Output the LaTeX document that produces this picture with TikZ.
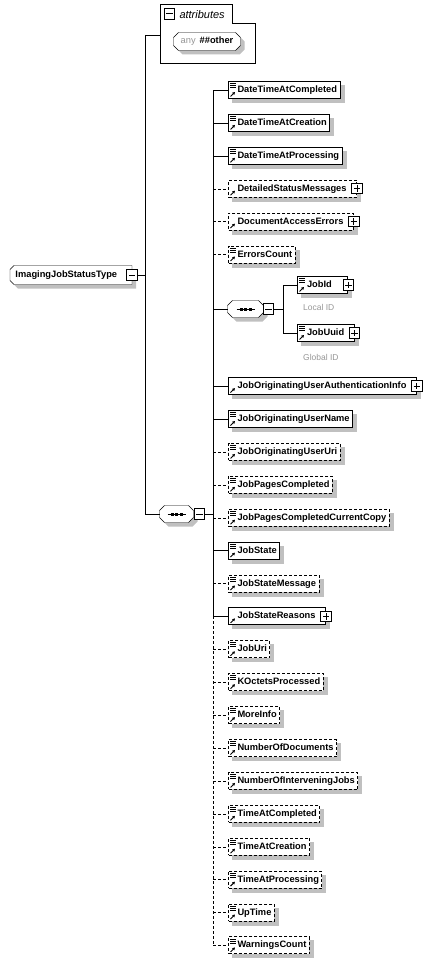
\documentclass[tikz,border=0pt]{standalone}
\usepackage{fontspec}
\setmainfont{Liberation Sans}
\usetikzlibrary{arrows.meta,calc}
\pgfdeclarelayer{background}
\pgfdeclarelayer{shadowlayer}
\pgfsetlayers{shadowlayer,background,main}
\definecolor{shadowgray}{RGB}{192,192,192}
\definecolor{anngray}{RGB}{150,150,150}
\newcommand\elfont{\fontsize{9.3}{11}\selectfont\bfseries}
% #1 node, #2 left chamfer, #3 right chamfer, #4 style, #5 offset
\newcommand\octo[5]{%
  \path[#4] let \p1=(#1.north west), \p2=(#1.south east) in
   ({\x1+#2pt+#5pt},{\y1-#5pt}) -- ({\x2-#3pt+#5pt},{\y1-#5pt}) -- ({\x2+#5pt},{\y1-#3pt-#5pt}) --
   ({\x2+#5pt},{\y2+#3pt-#5pt}) -- ({\x2-#3pt+#5pt},{\y2-#5pt}) -- ({\x1+#2pt+#5pt},{\y2-#5pt}) --
   ({\x1+#5pt},{\y2+#2pt-#5pt}) -- ({\x1+#5pt},{\y1-#2pt-#5pt}) -- cycle;}
\newcommand\simpleicon[1]{%
  \draw[line width=0.8pt] ([xshift=2pt,yshift=-2.5pt]#1.north west) -- ++(5.5,0)
    ([xshift=2pt,yshift=-4.5pt]#1.north west) -- ++(5.5,0)
    ([xshift=2pt,yshift=-6.5pt]#1.north west) -- ++(5.5,0);}
\newcommand\refarrow[1]{%
  \draw[line width=0.9pt,-{Triangle[length=2.6pt,width=2.8pt]}] ([xshift=2.5pt,yshift=2.5pt]#1.south west) -- ++(4.5,-4.5);}
\newcommand\seqicon[1]{%
  \draw[line width=1pt] ([xshift=-9pt]#1.center) -- ([xshift=9pt]#1.center);
  \foreach \dx in {-4.5,0,4.5} \fill ([xshift=\dx pt]#1.center) +(-1.5,-1.5) rectangle +(1.5,1.5);}
\newcommand\boxshadow[1]{%
  \fill[shadowgray] ([xshift=4pt,yshift=-4pt]#1.north west) rectangle ([xshift=4pt,yshift=-4pt]#1.south east);}
\tikzset{
  elbox/.style={draw, fill=white, anchor=west, line width=1pt, minimum height=17pt,
    inner xsep=0pt, inner ysep=0pt, font=\elfont, text height=7pt, text depth=2pt},
  optbox/.style={elbox, dash pattern=on 3pt off 2pt},
  optline/.style={dash pattern=on 3pt off 2pt},
  pmbox/.style={draw, fill=white, line width=1pt, minimum size=10.5pt, inner sep=0pt},
  minusbox/.style={pmbox, path picture={\draw[line width=1pt] ([xshift=2pt]path picture bounding box.west) -- ([xshift=-2pt]path picture bounding box.east);}},
  plusbox/.style={pmbox, path picture={\draw[line width=1pt] ([xshift=2pt]path picture bounding box.west) -- ([xshift=-2pt]path picture bounding box.east) ([yshift=-2pt]path picture bounding box.north) -- ([yshift=2pt]path picture bounding box.south);}},
  holder/.style={inner sep=0pt, draw=none},
  ann/.style={anchor=west, font=\fontsize{8.5}{10}\selectfont, text=anngray, inner sep=0pt},
}
\begin{document}
\begin{tikzpicture}[x=1pt,y=-1pt,line width=1pt]
\useasboundingbox (0,0) rectangle (439,966);

% ---------- root ----------
\node[holder, anchor=west, minimum width=121pt, minimum height=18pt, font=\elfont] (root) at (10,275)
  {\makebox[121pt][l]{\hspace*{5pt}ImagingJobStatusType}};
\node[minusbox] (rootm) at (root.east) {};

% ---------- attributes ----------
\node[holder, minimum width=95pt, minimum height=59pt] (attr) at (207.5,33.5) {};
\coordinate (attrin) at (160,35);
\node[minusbox] (attrm) at (169.5,14) {};
\node[anchor=west, inner sep=0pt, font=\fontsize{11}{13}\selectfont\itshape] (attrt) at (179,15) {attributes};
\node[holder, minimum width=66pt, minimum height=17pt, font=\fontsize{9.3}{11}\selectfont] (anyn) at (207,41.5)
  {\textcolor{anngray}{any}\hspace{4pt}\textbf{\#\#other}};

% ---------- main sequence ----------
\node[holder, minimum width=33pt, minimum height=16pt] (seq) at (176.5,514) {};
\node[minusbox] (seqm) at (199.5,514) {};
\seqicon{seq}

% ---------- inner sequence ----------
\node[holder, minimum width=35pt, minimum height=16pt] (seqb) at (245.5,309) {};
\node[minusbox] (seqbm) at (268.5,309) {};
\seqicon{seqb}

\begin{pgfonlayer}{background}
  \octo{root}{4}{0}{fill=shadowgray}{4}
  \octo{root}{4}{0}{draw, fill=white}{0}
  \draw[fill=white] (160,4) -- (232,4) -- (232,23) -- (255,23) -- (255,63) -- (160,63) -- cycle;
  \octo{anyn}{5}{5}{fill=shadowgray}{4}
  \octo{anyn}{5}{5}{draw, fill=white}{0}
  \octo{seq}{5}{5}{fill=shadowgray}{4}
  \octo{seq}{5}{5}{draw, fill=white}{0}
  \octo{seqb}{5}{5}{fill=shadowgray}{4}
  \octo{seqb}{5}{5}{draw, fill=white}{0}
\end{pgfonlayer}

% trunk
\coordinate (vt) at (145,35);
\coordinate (vr) at (145,275);
\coordinate (vb) at (145,514);
\draw (rootm.east) -- (vr);
\draw (vt) -- (vb);
\draw (vt) -- (attrin);
\draw (vb) -- (seq.west);

% spine
\coordinate (spseq) at (213,514);
\coordinate (sp0) at (213,90);
\coordinate (sp1) at (213,122.9);
\coordinate (sp2) at (213,155.8);
\coordinate (sp3) at (213,188.7);
\coordinate (sp4) at (213,221.6);
\coordinate (sp5) at (213,254.5);
\coordinate (sp6) at (213,309);
\coordinate (sp9) at (213,386.1);
\coordinate (sp10) at (213,419);
\coordinate (sp11) at (213,451.9);
\coordinate (sp12) at (213,484.8);
\coordinate (sp13) at (213,517.7);
\coordinate (sp14) at (213,550.6);
\coordinate (sp15) at (213,583.5);
\coordinate (sp16) at (213,616.4);
\coordinate (sp17) at (213,649.3);
\coordinate (sp18) at (213,682.2);
\coordinate (sp19) at (213,715.1);
\coordinate (sp20) at (213,748);
\coordinate (sp21) at (213,780.9);
\coordinate (sp22) at (213,813.8);
\coordinate (sp23) at (213,846.7);
\coordinate (sp24) at (213,879.6);
\coordinate (sp25) at (213,912.5);
\coordinate (sp26) at (213,945.4);
\draw (seqm.east) -- (spseq);
\draw (sp0) -- (sp16);
\draw[optline] (sp16) -- (sp26);

% elements
\node[elbox]  (e0)  at (228,90)    {\hspace*{9pt}DateTimeAtCompleted\hspace*{3pt}};
\node[elbox]  (e1)  at (228,122.9) {\hspace*{9pt}DateTimeAtCreation\hspace*{3pt}};
\node[elbox]  (e2)  at (228,155.8) {\hspace*{9pt}DateTimeAtProcessing\hspace*{3pt}};
\node[optbox] (e3)  at (228,188.7) {\hspace*{9pt}DetailedStatusMessages\hspace*{10pt}};
\node[optbox] (e4)  at (228,221.6) {\hspace*{9pt}DocumentAccessErrors\hspace*{10pt}};
\node[optbox] (e5)  at (228,254.5) {\hspace*{9pt}ErrorsCount\hspace*{3pt}};
\node[elbox]  (e9)  at (228,386.1) {\hspace*{9pt}JobOriginatingUserAuthenticationInfo\hspace*{10pt}};
\node[elbox]  (e10) at (228,419)   {\hspace*{9pt}JobOriginatingUserName\hspace*{3pt}};
\node[optbox] (e11) at (228,451.9) {\hspace*{9pt}JobOriginatingUserUri\hspace*{3pt}};
\node[optbox] (e12) at (228,484.8) {\hspace*{9pt}JobPagesCompleted\hspace*{3pt}};
\node[optbox] (e13) at (228,517.7) {\hspace*{9pt}JobPagesCompletedCurrentCopy\hspace*{3pt}};
\node[elbox]  (e14) at (228,550.6) {\hspace*{9pt}JobState\hspace*{3pt}};
\node[optbox] (e15) at (228,583.5) {\hspace*{9pt}JobStateMessage\hspace*{3pt}};
\node[elbox]  (e16) at (228,616.4) {\hspace*{9pt}JobStateReasons\hspace*{10pt}};
\node[optbox] (e17) at (228,649.3) {\hspace*{9pt}JobUri\hspace*{3pt}};
\node[optbox] (e18) at (228,682.2) {\hspace*{9pt}KOctetsProcessed\hspace*{3pt}};
\node[optbox] (e19) at (228,715.1) {\hspace*{9pt}MoreInfo\hspace*{3pt}};
\node[optbox] (e20) at (228,748)   {\hspace*{9pt}NumberOfDocuments\hspace*{3pt}};
\node[optbox] (e21) at (228,780.9) {\hspace*{9pt}NumberOfInterveningJobs\hspace*{3pt}};
\node[optbox] (e22) at (228,813.8) {\hspace*{9pt}TimeAtCompleted\hspace*{3pt}};
\node[optbox] (e23) at (228,846.7) {\hspace*{9pt}TimeAtCreation\hspace*{3pt}};
\node[optbox] (e24) at (228,879.6) {\hspace*{9pt}TimeAtProcessing\hspace*{3pt}};
\node[optbox] (e25) at (228,912.5) {\hspace*{9pt}UpTime\hspace*{3pt}};
\node[optbox] (e26) at (228,945.4) {\hspace*{9pt}WarningsCount\hspace*{3pt}};

\foreach \i in {0,1,2,9,10,14,16} \draw (sp\i) -- (e\i);
\foreach \i in {3,4,5,11,12,13,15,17,18,19,20,21,22,23,24,25,26} \draw[optline] (sp\i) -- (e\i);

% inner choice
\coordinate (iv) at (283,309);
\coordinate (iv1) at (283,285);
\coordinate (iv2) at (283,333);
\draw (sp6) -- (seqb.west);
\draw (seqbm.east) -- (iv);
\draw (iv1) -- (iv2);
\node[elbox] (jid) at (297,285) {\hspace*{9.5pt}JobId\hspace*{16pt}};
\node[elbox] (juu) at (297,333) {\hspace*{9.5pt}JobUuid\hspace*{10pt}};
\draw (iv1) -- (jid);
\draw (iv2) -- (juu);
\node[ann] (jidann) at (303,307) {Local ID};
\node[ann] (juuann) at (303,357) {Global ID};

% shadows of element boxes
\begin{pgfonlayer}{shadowlayer}
\foreach \n in {e0,e1,e2,e3,e4,e5,e9,e10,e11,e12,e13,e14,e15,e16,e17,e18,e19,e20,e21,e22,e23,e24,e25,e26,jid,juu} \boxshadow{\n};
\end{pgfonlayer}

% icons
\foreach \n in {e0,e1,e2,e5,e10,e11,e12,e13,e14,e15,e17,e18,e19,e20,e21,e22,e23,e24,e25,e26,jid,juu} \simpleicon{\n};
\foreach \n in {e0,e1,e2,e3,e4,e5,e9,e10,e11,e12,e13,e14,e15,e16,e17,e18,e19,e20,e21,e22,e23,e24,e25,e26,jid,juu} \refarrow{\n};

% plus boxes
\node[plusbox] (e3p)  at (e3.east)  {};
\node[plusbox] (e4p)  at (e4.east)  {};
\node[plusbox] (e9p)  at (e9.east)  {};
\node[plusbox] (e16p) at (e16.east) {};
\node[plusbox] (jidp) at (jid.east) {};
\node[plusbox] (juup) at (juu.east) {};
\end{tikzpicture}
\end{document}
